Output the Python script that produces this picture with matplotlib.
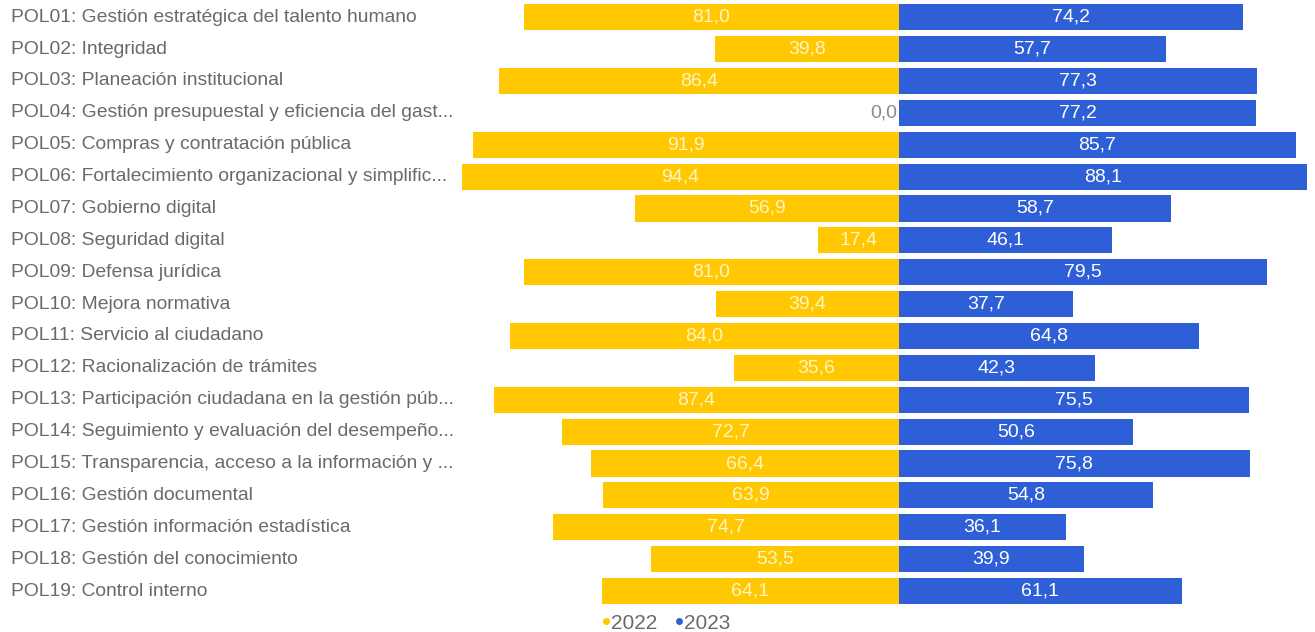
import matplotlib.pyplot as plt
import matplotlib.transforms as mtrans
from matplotlib.lines import Line2D

politicas = [
    "POL01: Gestión estratégica del talento humano",
    "POL02: Integridad",
    "POL03: Planeación institucional",
    "POL04: Gestión presupuestal y eficiencia del gast...",
    "POL05: Compras y contratación pública",
    "POL06: Fortalecimiento organizacional y simplific...",
    "POL07: Gobierno digital",
    "POL08: Seguridad digital",
    "POL09: Defensa jurídica",
    "POL10: Mejora normativa",
    "POL11: Servicio al ciudadano",
    "POL12: Racionalización de trámites",
    "POL13: Participación ciudadana en la gestión púb...",
    "POL14: Seguimiento y evaluación del desempeño...",
    "POL15: Transparencia, acceso a la información y ...",
    "POL16: Gestión documental",
    "POL17: Gestión información estadística",
    "POL18: Gestión del conocimiento",
    "POL19: Control interno",
]
v2022 = [81.0, 39.8, 86.4, 0.0, 91.9, 94.4, 56.9, 17.4, 81.0, 39.4,
         84.0, 35.6, 87.4, 72.7, 66.4, 63.9, 74.7, 53.5, 64.1]
v2023 = [74.2, 57.7, 77.3, 77.2, 85.7, 88.1, 58.7, 46.1, 79.5, 37.7,
         64.8, 42.3, 75.5, 50.6, 75.8, 54.8, 36.1, 39.9, 61.1]

amarillo = "#FFC800"
azul = "#2F5FD6"
gris = "#6a6a6a"

plt.rcParams["font.family"] = ["Liberation Sans", "DejaVu Sans"]

fig = plt.figure(figsize=(13.15, 6.32), dpi=100)
ax = fig.add_axes([0.349, 0.0396, 0.648, 0.9584])

y = list(range(len(politicas)))
ax.barh(y, [-v for v in v2022], height=0.82, color=amarillo)
ax.barh(y, v2023, height=0.82, color=azul)

ax.set_xlim(-95, 89)
ax.set_ylim(len(politicas) - 0.5, -0.5)
ax.axis("off")

fmt = lambda v: f"{v:.1f}".replace(".", ",")
for i in y:
    if v2022[i] > 0:
        ax.text(-v2022[i] / 2, i, fmt(v2022[i]), ha="center", va="center",
                color="#fff3c8", fontsize=14)
    else:
        ax.text(-0.4, i, fmt(v2022[i]), ha="right", va="center",
                color="#8a8a8a", fontsize=14)
    ax.text(v2023[i] / 2, i, fmt(v2023[i]), ha="center", va="center",
            color="white", fontsize=14)

# etiquetas de las politicas alineadas a la izquierda
tr = mtrans.blended_transform_factory(fig.transFigure, ax.transData)
for i, nombre in enumerate(politicas):
    ax.text(0.008, i, nombre, transform=tr, ha="left", va="center",
            color=gris, fontsize=13.9)

handles = [
    Line2D([], [], marker="o", linestyle="", color=amarillo, markersize=4),
    Line2D([], [], marker="o", linestyle="", color=azul, markersize=4),
]
fig.legend(handles, ["2022", "2023"], loc="center", bbox_to_anchor=(0.506, 0.014),
           ncol=2, frameon=False, handletextpad=0.0, columnspacing=0.8,
           handlelength=0.5, fontsize=15, labelcolor=gris)

fig.savefig("out.png", dpi=100)
